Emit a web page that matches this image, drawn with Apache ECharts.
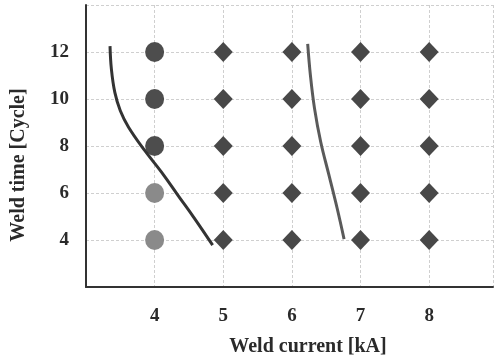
<!DOCTYPE html>
<html>
<head>
<meta charset="utf-8">
<script src="https://cdn.jsdelivr.net/npm/echarts@6/dist/echarts.min.js"></script>
<style>
  html, body { margin: 0; padding: 0; background: #fff; }
  #chart { width: 496px; height: 363px; }
</style>
</head>
<body>
<div id="chart"></div>
<script>
// weld lobe data
const goodCircles = [[4, 8], [4, 10], [4, 12]];
const lightCircles = [[4, 4], [4, 6]];
const diamonds = [
    [5, 4], [5, 6], [5, 8], [5, 10], [5, 12],
    [6, 4], [6, 6], [6, 8], [6, 10], [6, 12],
    [7, 4], [7, 6], [7, 8], [7, 10], [7, 12],
    [8, 4], [8, 6], [8, 8], [8, 10], [8, 12]
];
const leftCurve = [
    [3.35, 12.25], [3.37, 11.27], [3.42, 10.28], [3.50, 9.50], [3.62, 8.80],
    [3.855, 7.81], [4.10, 6.89], [4.34, 5.90], [4.58, 4.92], [4.845, 3.78]
];
const rightCurve = [
    [6.23, 12.35], [6.27, 11.0], [6.33, 9.59], [6.42, 8.17],
    [6.54, 6.76], [6.66, 5.34], [6.76, 4.04]
];

const font = '"Liberation Serif", "Times New Roman", serif';
const gridLine = {show: true, lineStyle: {color: '#cfcfcf', type: [3, 2], width: 1}};

let chart = echarts.init(document.getElementById('chart'));
chart.setOption({
    animation: false,
    grid: {left: 86, right: 0, top: 5, bottom: 76},
    xAxis: {
        type: 'value',
        min: 3,
        max: 8.93,
        interval: 1,
        axisLine: {show: true, onZero: false, lineStyle: {color: '#333', width: 2}},
        axisTick: {show: false},
        splitLine: gridLine,
        axisLabel: {
            margin: 20,
            fontFamily: font,
            fontWeight: 'bold',
            fontSize: 19,
            color: '#2a2a2a',
            formatter: v => (v >= 4 && v <= 8) ? String(v) : ''
        }
    },
    yAxis: {
        type: 'value',
        min: 2,
        max: 14,
        interval: 2,
        axisLine: {show: true, onZero: false, lineStyle: {color: '#333', width: 2}},
        axisTick: {show: false},
        splitLine: gridLine,
        axisLabel: {
            margin: 17,
            fontFamily: font,
            fontWeight: 'bold',
            fontSize: 19,
            color: '#2a2a2a',
            formatter: v => (v >= 4 && v <= 12) ? String(v) : ''
        }
    },
    graphic: [
        {
            type: 'text',
            x: 308,
            y: 347,
            style: {
                text: 'Weld current [kA]',
                font: 'bold 20px ' + font,
                fill: '#2a2a2a',
                textAlign: 'center',
                textVerticalAlign: 'middle'
            }
        },
        {
            type: 'text',
            x: 19,
            y: 165,
            rotation: Math.PI / 2,
            style: {
                text: 'Weld time [Cycle]',
                font: 'bold 20px ' + font,
                fill: '#2a2a2a',
                textAlign: 'center',
                textVerticalAlign: 'middle'
            }
        }
    ],
    series: [
        {
            name: 'left',
            type: 'line',
            smooth: 0.4,
            showSymbol: false,
            data: leftCurve,
            lineStyle: {color: '#333', width: 3},
            z: 3
        },
        {
            name: 'right',
            type: 'line',
            smooth: 0.4,
            showSymbol: false,
            data: rightCurve,
            lineStyle: {color: '#5a5a5a', width: 3},
            z: 3
        },
        {
            name: 'good',
            type: 'scatter',
            symbol: 'circle',
            symbolSize: [19, 20],
            data: goodCircles,
            itemStyle: {color: '#4d4d4d', opacity: 1},
            z: 2
        },
        {
            name: 'weak',
            type: 'scatter',
            symbol: 'circle',
            symbolSize: [19, 20],
            data: lightCircles,
            itemStyle: {color: '#8a8a8a', opacity: 1},
            z: 2
        },
        {
            name: 'expulsion',
            type: 'scatter',
            symbol: 'diamond',
            symbolSize: [19, 20],
            data: diamonds,
            itemStyle: {color: '#484848', opacity: 1},
            z: 2
        }
    ]
});
</script>
</body>
</html>
